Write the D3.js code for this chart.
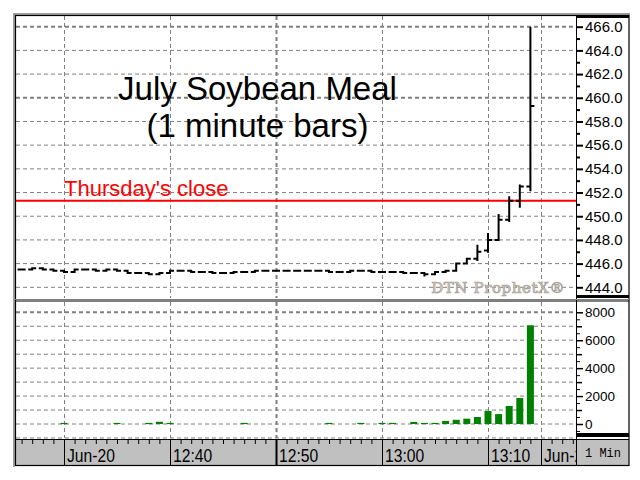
<!DOCTYPE html>
<html><head><meta charset="utf-8">
<script src="https://cdn.jsdelivr.net/npm/d3@7"></script>
<style>html,body{margin:0;padding:0;background:#fff;} svg{display:block;}</style>
</head><body>
<script>
// ---- data (1-minute bars, Jun-20) ----
const times = ["12:26","12:27","12:28","12:29","12:30","12:31","12:32","12:33","12:34","12:35",
  "12:36","12:37","12:38","12:39","12:40","12:41","12:42","12:43","12:44","12:45",
  "12:46","12:47","12:48","12:49","12:50","12:51","12:52","12:53","12:54","12:55",
  "12:56","12:57","12:58","12:59","13:00","13:01","13:02","13:03","13:04","13:05",
  "13:06","13:07","13:08","13:09","13:10","13:11","13:12","13:13","13:14"];
const opens = [445.5,445.5,445.6,445.5,445.4,445.3,445.5,445.5,445.4,445.5,
  445.4,445.2,445.2,445.1,445.2,445.4,445.4,445.3,445.3,445.2,
  445.2,445.3,445.3,445.4,445.4,445.4,445.4,445.4,445.4,445.4,
  445.3,445.3,445.4,445.4,445.3,445.3,445.3,445.2,445.2,445.1,
  445.3,445.4,446.0,446.4,447.1,448.0,449.7,451.3,452.5];
const highs = [445.5,445.6,445.6,445.5,445.4,445.5,445.5,445.5,445.5,445.5,
  445.4,445.2,445.2,445.2,445.4,445.4,445.4,445.3,445.3,445.2,
  445.3,445.3,445.4,445.4,445.4,445.4,445.4,445.4,445.4,445.4,
  445.3,445.4,445.4,445.4,445.3,445.3,445.3,445.2,445.2,445.3,
  445.4,446.0,446.4,447.5,448.5,450.1,451.6,452.6,465.9];
const lows = [445.5,445.5,445.5,445.4,445.3,445.3,445.5,445.4,445.4,445.4,
  445.2,445.2,445.1,445.1,445.2,445.4,445.3,445.3,445.2,445.2,
  445.2,445.3,445.3,445.4,445.4,445.4,445.4,445.4,445.4,445.3,
  445.3,445.3,445.4,445.3,445.3,445.3,445.2,445.2,445.0,445.1,
  445.3,445.4,446.0,446.3,447.0,448.0,449.6,450.8,452.2];
const closes = [445.5,445.6,445.5,445.4,445.3,445.5,445.5,445.4,445.5,445.4,
  445.2,445.2,445.1,445.2,445.4,445.4,445.3,445.3,445.2,445.2,
  445.3,445.3,445.4,445.4,445.4,445.4,445.4,445.4,445.4,445.3,
  445.3,445.4,445.4,445.3,445.3,445.3,445.2,445.2,445.1,445.3,
  445.4,446.0,446.4,447.0,448.0,449.7,451.3,452.5,459.3];
const volumes = [0,0,0,0,80,0,0,0,0,80,
  0,0,80,160,80,0,0,0,0,0,
  0,80,0,0,0,0,0,0,0,80,
  0,0,80,0,80,80,0,150,80,80,
  220,300,380,500,930,710,1290,1860,7070];
const priceTicks = [444,446,448,450,452,454,456,458,460,462,464,466];
const priceMinorTicks = [445,447,449,451,453,455,457,459,461,463,465];
const volumeTicks = [0,2000,4000,6000,8000];
const volumeGrid = [-1000,0,1000,2000,3000,4000,5000,6000,7000,8000];
const xTickTimes = ["12:30","12:40","12:50","13:00","13:10","13:15"];
const xTickLabels = ["Jun-20","12:40","12:50","13:00","13:10","Jun-2"];
const thursdayClose = 451.3;
const titleLines = ["July Soybean Meal","(1 minute bars)"];

// ---- layout ----
const parse = d3.timeParse("%H:%M");
const svg = d3.select("body").append("svg").attr("width",640).attr("height",480);
const L=16, R=577, RE=629;
const pTop=16, pBot=298, vTop=302, vBot=438, sTop=440, sBot=465;
const SANS = "'Liberation Sans', Arial, sans-serif";

const x = d3.scaleTime().domain([parse("12:30"), parse("12:40")]).range([64,170]);
const yP = d3.scaleLinear().domain([444,466]).range([287.3,26.7]);
const yV = d3.scaleLinear().domain([0,8000]).range([424,312.3]);

const defs = svg.append("defs");
defs.append("clipPath").attr("id","cp").append("rect").attr("x",L).attr("y",pTop).attr("width",R-L).attr("height",pBot-pTop);
defs.append("clipPath").attr("id","cv").append("rect").attr("x",L).attr("y",vTop).attr("width",R-L).attr("height",vBot-vTop+1);
defs.append("clipPath").attr("id","cs").append("rect").attr("x",L).attr("y",sTop).attr("width",R-L-1).attr("height",sBot-sTop);

// grids
const gp = svg.append("g").attr("clip-path","url(#cp)");
gp.selectAll("line.h").data(priceTicks).join("line")
  .attr("x1",L).attr("x2",R).attr("y1",d=>yP(d)).attr("y2",d=>yP(d))
  .attr("stroke","#808080").attr("stroke-width",d=>(d===466||d===460)?2:1)
  .attr("stroke-dasharray","4,3");
gp.selectAll("line.v").data(xTickTimes).join("line")
  .attr("x1",d=>Math.round(x(parse(d)))+0.5).attr("x2",d=>Math.round(x(parse(d)))+0.5)
  .attr("y1",pTop).attr("y2",pBot)
  .attr("stroke","#808080").attr("stroke-width",d=>d==="12:50"?2:1)
  .attr("stroke-dasharray","4,3");

const gv = svg.append("g").attr("clip-path","url(#cv)");
gv.selectAll("line.h").data(volumeGrid).join("line")
  .attr("x1",L).attr("x2",R).attr("y1",d=>yV(d)).attr("y2",d=>yV(d))
  .attr("stroke","#808080").attr("stroke-width",d=>d===8000?2:1)
  .attr("stroke-dasharray","4,3");
gv.selectAll("line.v").data(xTickTimes).join("line")
  .attr("x1",d=>Math.round(x(parse(d)))+0.5).attr("x2",d=>Math.round(x(parse(d)))+0.5)
  .attr("y1",vTop).attr("y2",vBot)
  .attr("stroke","#808080").attr("stroke-width",d=>d==="12:50"?2:1)
  .attr("stroke-dasharray","4,3");

// title
svg.append("g").selectAll("text").data(titleLines).join("text")
  .attr("x",257.5).attr("y",(d,i)=>i===0?100:136.5).attr("text-anchor","middle")
  .attr("font-family",SANS).attr("font-size",33).attr("fill","#000").text(d=>d);

// Thursday close
gp.append("line").attr("x1",L).attr("x2",R).attr("y1",yP(thursdayClose)).attr("y2",yP(thursdayClose))
  .attr("stroke","#ff0000").attr("stroke-width",2);
svg.append("text").attr("x",64).attr("y",196).attr("font-family",SANS).attr("font-size",22)
  .attr("fill","#ff0000").text("Thursday's close");

// watermark
svg.append("text").attr("x",565).attr("y",293).attr("text-anchor","end")
  .attr("font-family","'DejaVu Serif', serif").attr("font-size",15)
  .attr("letter-spacing",0.6).attr("fill","#d8d0c8").attr("stroke","#a8a098").attr("stroke-width",0.7)
  .text("DTN ProphetX®");

// OHLC bars
const bars = times.map((t,i)=>({t:parse(t),o:opens[i],h:highs[i],l:lows[i],c:closes[i],v:volumes[i]}));
gp.append("g").selectAll("path").data(bars).join("path")
  .attr("d",d=>{const cx=x(d.t);
    return `M${cx},${yP(d.h)-1}V${yP(d.l)+1}M${cx-4},${yP(d.o)}H${cx}M${cx},${yP(d.c)}H${cx+4}`;})
  .attr("fill","none").attr("stroke","#000").attr("stroke-width",2);

// volume bars
gv.append("g").selectAll("rect").data(bars.filter(d=>d.v>0)).join("rect")
  .attr("x",d=>x(d.t)-3.5).attr("width",7)
  .attr("y",d=>yV(d.v)).attr("height",d=>Math.max(1.2,yV(0)-yV(d.v)))
  .attr("fill","#008000");

// right axes
const ap = svg.append("g").attr("transform",`translate(${R},0)`);
ap.call(d3.axisRight(yP).tickValues(priceTicks).tickFormat(d3.format(".1f")).tickSize(6).tickPadding(2))
  .call(g=>g.select(".domain").remove())
  .call(g=>g.selectAll("text").attr("font-family",SANS).attr("font-size",15).attr("fill","#000"))
  .call(g=>g.selectAll("line").attr("stroke-width",2));
svg.append("g").attr("transform",`translate(${R},0)`)
  .call(d3.axisRight(yP).tickValues(priceMinorTicks).tickFormat("").tickSize(3))
  .call(g=>g.select(".domain").remove()).call(g=>g.selectAll("line").attr("stroke-width",2));

const av = svg.append("g").attr("transform",`translate(${R},0)`);
av.call(d3.axisRight(yV).tickValues(volumeTicks).tickFormat(d3.format("d")).tickSize(6).tickPadding(2))
  .call(g=>g.select(".domain").remove())
  .call(g=>g.selectAll("text").attr("font-family",SANS).attr("font-size",13.5).attr("fill","#000"))
  .call(g=>g.selectAll("line").attr("stroke-width",1.5));
svg.append("g").attr("transform",`translate(${R},0)`)
  .call(d3.axisRight(yV).tickValues([1000,3000,5000,7000]).tickFormat("").tickSize(5))
  .call(g=>g.select(".domain").remove()).call(g=>g.selectAll("line").attr("stroke-width",1.5));
svg.append("g").attr("transform",`translate(${R},0)`)
  .call(d3.axisRight(yV).tickValues([-500,500,1500,2500,3500,4500,5500,6500,7500]).tickFormat("").tickSize(3))
  .call(g=>g.select(".domain").remove());

// x strip
svg.append("rect").attr("x",L).attr("y",sTop).attr("width",RE-L).attr("height",sBot-sTop).attr("fill","#c0c0c0");
const minuteTicks = d3.timeMinute.range(parse("12:26"), parse("13:19"));
svg.append("g").attr("transform",`translate(0,${sTop})`)
  .call(d3.axisBottom(x).tickValues(minuteTicks).tickFormat("").tickSize(4))
  .call(g=>g.select(".domain").remove())
  .call(g=>g.selectAll("line").attr("stroke","#000"));
svg.append("g").selectAll("line").data(xTickTimes).join("line")
  .attr("x1",d=>Math.round(x(parse(d)))+0.5).attr("x2",d=>Math.round(x(parse(d)))+0.5)
  .attr("y1",sTop).attr("y2",sBot).attr("stroke","#000").attr("stroke-width",d=>d==="12:50"?2:1);
svg.append("g").attr("clip-path","url(#cs)").selectAll("g").data(xTickTimes).join("g")
  .attr("transform",(d)=>`translate(${Math.round(x(parse(d)))+3},462) scale(0.87,1)`)
  .append("text").attr("font-family",SANS).attr("font-size",18).attr("fill","#000")
  .text((d,i)=>xTickLabels[i]);
svg.append("text").attr("x",585).attr("y",457).attr("font-family","'Liberation Mono', 'Courier New', monospace")
  .attr("font-size",12).attr("fill","#000").text("1 Min");

// frame
const frame = svg.append("g");
frame.append("path").attr("d",`M14,467V14H${RE+1}`).attr("fill","none").attr("stroke","#808080").attr("stroke-width",1.5);
frame.append("rect").attr("x",15.5).attr("y",15.5).attr("width",RE-15.5).attr("height",sBot-15).attr("fill","none").attr("stroke","#000").attr("stroke-width",1.2);
frame.append("line").attr("x1",R-0.5).attr("x2",R-0.5).attr("y1",15).attr("y2",sBot).attr("stroke","#000").attr("stroke-width",1);
frame.append("rect").attr("x",R).attr("y",15).attr("width",RE-R).attr("height",3).attr("fill","#000");
frame.append("rect").attr("x",R).attr("y",295).attr("width",RE-R).attr("height",3).attr("fill","#000");
frame.append("line").attr("x1",15).attr("x2",RE).attr("y1",299.5).attr("y2",299.5).attr("stroke","#808080");
frame.append("line").attr("x1",15).attr("x2",RE).attr("y1",301).attr("y2",301).attr("stroke","#000").attr("stroke-width",1.2);
frame.append("rect").attr("x",R).attr("y",433).attr("width",RE-R).attr("height",4).attr("fill","#000");
frame.append("line").attr("x1",15).attr("x2",RE).attr("y1",439.5).attr("y2",439.5).attr("stroke","#000").attr("stroke-width",1);
</script>
</body></html>
